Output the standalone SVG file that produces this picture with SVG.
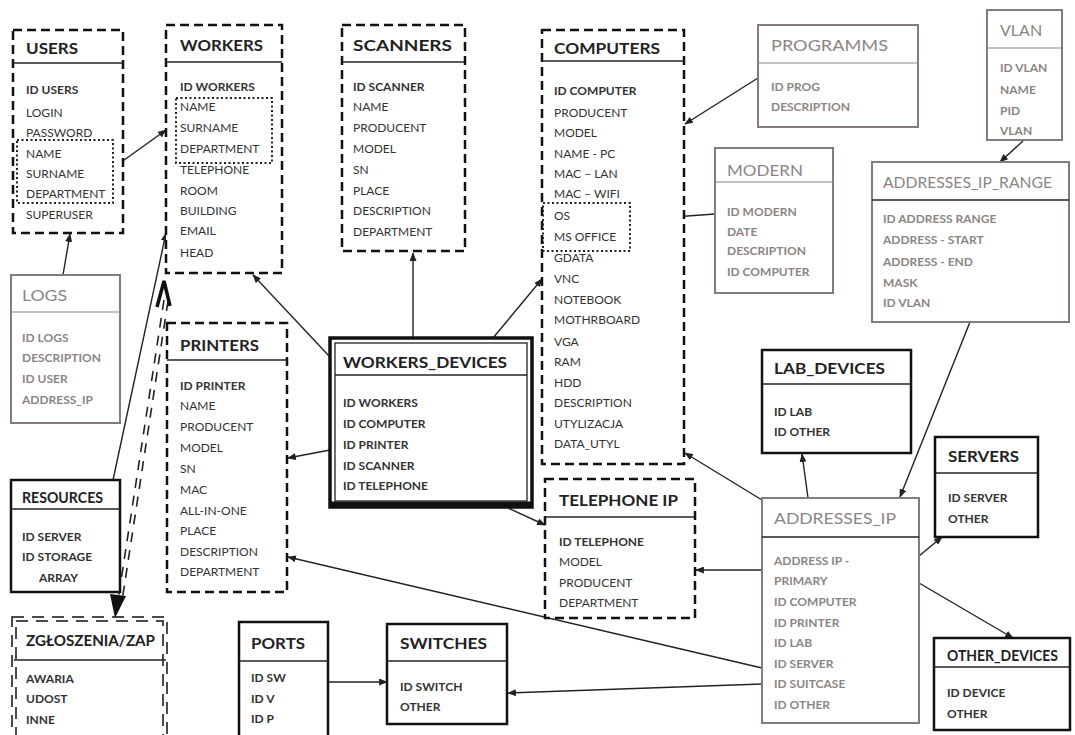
<svg xmlns="http://www.w3.org/2000/svg" width="1075" height="735" viewBox="0 0 1075 735">
<style>
text{font-family:Lato,"Open Sans","Liberation Sans",sans-serif}
.ti{font-size:16px;font-weight:700;fill:#222}
.gt{font-size:16px;font-weight:400;fill:#8c8583}
.r{font-size:12px;fill:#333}
.b{font-weight:700}
.g{fill:#8c8583;font-weight:700}
.dash{fill:#fff;stroke:#111;stroke-width:2.5;stroke-dasharray:9 5}
.sol{fill:#fff;stroke:#111;stroke-width:2.5}
.gb{fill:#fff;stroke:#857b78;stroke-width:2}
.hl{stroke:#222;stroke-width:1.5}
.ghl{stroke:#8c8583;stroke-width:1.2}
.dot{fill:none;stroke:#222;stroke-width:2;stroke-dasharray:2 2.5}
.c{fill:none;stroke:#222;stroke-width:1.4;marker-end:url(#a)}
.dd{fill:none;stroke:#222;stroke-width:1.6;stroke-dasharray:10 8}
</style>
<defs>
<marker id="a" viewBox="0 0 10 8" refX="9" refY="4" markerWidth="9" markerHeight="7" markerUnits="userSpaceOnUse" orient="auto">
<path d="M0,0 L10,4 L0,8 z" fill="#222"/>
</marker>
</defs>
<rect width="1075" height="735" fill="#fff"/>

<g id="connectors">
<line class="c" x1="113" y1="168" x2="166" y2="130"/>
<line class="c" x1="63" y1="275" x2="70" y2="234"/>
<line class="c" x1="113" y1="480" x2="166" y2="233"/>
<line class="c" x1="758" y1="78" x2="685" y2="124"/>
<line class="c" x1="715" y1="214" x2="632" y2="220"/>
<line class="c" x1="1023" y1="141" x2="1000" y2="162"/>
<line class="c" x1="330" y1="357" x2="253" y2="275"/>
<line class="c" x1="413" y1="338" x2="413" y2="253"/>
<line class="c" x1="493" y1="338" x2="542" y2="279"/>
<line class="c" x1="330" y1="450" x2="288" y2="458"/>
<line class="c" x1="508" y1="508" x2="545" y2="525"/>
<line class="c" x1="762" y1="500" x2="685" y2="453"/>
<line class="c" x1="808" y1="498" x2="802" y2="454"/>
<line class="c" x1="970" y1="322" x2="900" y2="497"/>
<line class="c" x1="919" y1="556" x2="942" y2="537"/>
<line class="c" x1="919" y1="583" x2="1013" y2="638"/>
<line class="c" x1="762" y1="570" x2="696" y2="570"/>
<line class="c" x1="762" y1="668" x2="288" y2="557"/>
<line class="c" x1="762" y1="684" x2="508" y2="693"/>
<line class="c" x1="328" y1="682" x2="387" y2="682"/>
<line class="dd" x1="164" y1="300" x2="118" y2="600"/>
<line class="dd" x1="168" y1="301" x2="122" y2="601"/>
<path d="M157,307 L164,281 L170,306" fill="none" stroke="#111" stroke-width="3.5"/>
<path d="M110,594 L126,596 L115,618 z" fill="#111"/>
</g>

<g id="users">
<rect class="dash" x="13" y="30" width="110" height="203"/>
<line class="hl" x1="13" y1="63" x2="123" y2="63"/>
<text class="ti" x="26" y="54" textLength="52" lengthAdjust="spacingAndGlyphs">USERS</text>
<text class="r b" x="26" y="94">ID USERS</text>
<text class="r" x="26" y="117">LOGIN</text>
<text class="r" x="26" y="137">PASSWORD</text>
<text class="r" x="26" y="158">NAME</text>
<text class="r" x="26" y="178">SURNAME</text>
<text class="r" x="26" y="198">DEPARTMENT</text>
<text class="r" x="26" y="219">SUPERUSER</text>
<rect class="dot" x="17" y="140" width="96" height="63"/>
</g>

<g id="workers">
<rect class="dash" x="166" y="25" width="116" height="248"/>
<line class="hl" x1="166" y1="62" x2="282" y2="62"/>
<text class="ti" x="180" y="51" textLength="83" lengthAdjust="spacingAndGlyphs">WORKERS</text>
<text class="r b" x="180" y="91">ID WORKERS</text>
<text class="r" x="180" y="111">NAME</text>
<text class="r" x="180" y="132">SURNAME</text>
<text class="r" x="180" y="153">DEPARTMENT</text>
<text class="r" x="180" y="174">TELEPHONE</text>
<text class="r" x="180" y="195">ROOM</text>
<text class="r" x="180" y="215">BUILDING</text>
<text class="r" x="180" y="235">EMAIL</text>
<text class="r" x="180" y="257">HEAD</text>
<rect class="dot" x="176" y="98" width="96" height="65"/>
</g>

<g id="scanners">
<rect class="dash" x="342" y="25" width="123" height="226"/>
<line class="hl" x1="342" y1="62" x2="465" y2="62"/>
<text class="ti" x="353" y="51" textLength="99" lengthAdjust="spacingAndGlyphs">SCANNERS</text>
<text class="r b" x="353" y="91">ID SCANNER</text>
<text class="r" x="353" y="111">NAME</text>
<text class="r" x="353" y="132">PRODUCENT</text>
<text class="r" x="353" y="153">MODEL</text>
<text class="r" x="353" y="174">SN</text>
<text class="r" x="353" y="195">PLACE</text>
<text class="r" x="353" y="215">DESCRIPTION</text>
<text class="r" x="353" y="236">DEPARTMENT</text>
</g>

<g id="computers">
<rect class="dash" x="542" y="30" width="142" height="434"/>
<line class="hl" x1="542" y1="61" x2="684" y2="61"/>
<text class="ti" x="554" y="54" textLength="106" lengthAdjust="spacingAndGlyphs">COMPUTERS</text>
<text class="r b" x="554" y="95">ID COMPUTER</text>
<text class="r" x="554" y="117">PRODUCENT</text>
<text class="r" x="554" y="137">MODEL</text>
<text class="r" x="554" y="158">NAME - PC</text>
<text class="r" x="554" y="178">MAC – LAN</text>
<text class="r" x="554" y="198">MAC – WIFI</text>
<text class="r" x="554" y="220">OS</text>
<text class="r" x="554" y="241">MS OFFICE</text>
<text class="r" x="554" y="262">GDATA</text>
<text class="r" x="554" y="283">VNC</text>
<text class="r" x="554" y="304">NOTEBOOK</text>
<text class="r" x="554" y="324">MOTHRBOARD</text>
<text class="r" x="554" y="346">VGA</text>
<text class="r" x="554" y="366">RAM</text>
<text class="r" x="554" y="387">HDD</text>
<text class="r" x="554" y="407">DESCRIPTION</text>
<text class="r" x="554" y="428">UTYLIZACJA</text>
<text class="r" x="554" y="448">DATA_UTYL</text>
<rect class="dot" x="543" y="203" width="87" height="48"/>
</g>

<g id="programms">
<rect class="gb" x="758" y="25" width="160" height="102"/>
<line class="ghl" x1="758" y1="63" x2="918" y2="63"/>
<text class="gt" x="771" y="51" textLength="117" lengthAdjust="spacingAndGlyphs">PROGRAMMS</text>
<text class="r g" x="771" y="91">ID PROG</text>
<text class="r g" x="771" y="111">DESCRIPTION</text>
</g>

<g id="modern">
<rect class="gb" x="715" y="148" width="118" height="145"/>
<line class="ghl" x1="715" y1="182" x2="833" y2="182"/>
<text class="gt" x="727" y="176" textLength="76" lengthAdjust="spacingAndGlyphs">MODERN</text>
<text class="r g" x="727" y="216">ID MODERN</text>
<text class="r g" x="727" y="236">DATE</text>
<text class="r g" x="727" y="255">DESCRIPTION</text>
<text class="r g" x="727" y="276">ID COMPUTER</text>
</g>

<g id="vlan">
<rect class="gb" x="987" y="10" width="75" height="130"/>
<line class="ghl" x1="987" y1="48" x2="1062" y2="48"/>
<text class="gt" x="1000" y="36">VLAN</text>
<text class="r g" x="1000" y="72">ID VLAN</text>
<text class="r g" x="1000" y="94">NAME</text>
<text class="r g" x="1000" y="115">PID</text>
<text class="r g" x="1000" y="135">VLAN</text>
</g>

<g id="addresses_ip_range">
<rect class="gb" x="872" y="162" width="197" height="160"/>
<line class="hl" x1="872" y1="200" x2="1069" y2="200"/>
<text class="gt" x="883" y="188" textLength="169" lengthAdjust="spacingAndGlyphs">ADDRESSES_IP_RANGE</text>
<text class="r g" x="883" y="223">ID ADDRESS RANGE</text>
<text class="r g" x="883" y="244">ADDRESS - START</text>
<text class="r g" x="883" y="266">ADDRESS - END</text>
<text class="r g" x="883" y="287">MASK</text>
<text class="r g" x="883" y="307">ID VLAN</text>
</g>

<g id="logs">
<rect class="gb" x="11" y="275" width="109" height="148"/>
<line class="ghl" x1="11" y1="312" x2="120" y2="312"/>
<text class="gt" x="22" y="301" font-weight="700" textLength="45" lengthAdjust="spacingAndGlyphs">LOGS</text>
<text class="r g" x="22" y="342">ID LOGS</text>
<text class="r g" x="22" y="362">DESCRIPTION</text>
<text class="r g" x="22" y="383">ID USER</text>
<text class="r g" x="22" y="404">ADDRESS_IP</text>
</g>

<g id="printers">
<rect class="dash" x="167" y="323" width="120" height="269"/>
<line class="hl" x1="167" y1="360" x2="287" y2="360"/>
<text class="ti" x="180" y="351" textLength="79" lengthAdjust="spacingAndGlyphs">PRINTERS</text>
<text class="r b" x="180" y="390">ID PRINTER</text>
<text class="r" x="180" y="410">NAME</text>
<text class="r" x="180" y="431">PRODUCENT</text>
<text class="r" x="180" y="452">MODEL</text>
<text class="r" x="180" y="473">SN</text>
<text class="r" x="180" y="494">MAC</text>
<text class="r" x="180" y="515">ALL-IN-ONE</text>
<text class="r" x="180" y="535">PLACE</text>
<text class="r" x="180" y="556">DESCRIPTION</text>
<text class="r" x="180" y="576">DEPARTMENT</text>
</g>

<g id="resources">
<rect class="sol" x="11" y="480" width="109" height="112"/>
<line class="hl" x1="11" y1="509" x2="120" y2="509"/>
<text class="ti" x="22" y="503" font-size="15" textLength="81" lengthAdjust="spacingAndGlyphs">RESOURCES</text>
<text class="r b" x="22" y="541">ID SERVER</text>
<text class="r b" x="22" y="561">ID STORAGE</text>
<text class="r b" x="39" y="582">ARRAY</text>
</g>

<g id="zgloszenia">
<rect x="12" y="617" width="155" height="130" fill="#fff" stroke="#111" stroke-width="1.5" stroke-dasharray="12 8"/>
<rect x="16" y="621" width="147" height="122" fill="none" stroke="#111" stroke-width="1.5" stroke-dasharray="12 8"/>
<line class="hl" x1="14" y1="660" x2="166" y2="660"/>
<text class="ti" x="26" y="646" textLength="129" lengthAdjust="spacingAndGlyphs">ZGŁOSZENIA/ZAP</text>
<text class="r b" x="26" y="683">AWARIA</text>
<text class="r b" x="26" y="703">UDOST</text>
<text class="r b" x="26" y="724">INNE</text>
</g>

<g id="workers_devices">
<rect x="330" y="338" width="202" height="169" fill="#fff" stroke="#111" stroke-width="3.5"/>
<rect x="335" y="343" width="192" height="158" fill="none" stroke="#111" stroke-width="1.2"/>
<line x1="330" y1="504" x2="532" y2="504" stroke="#111" stroke-width="5"/>
<line class="hl" x1="335" y1="375" x2="527" y2="375"/>
<text class="ti" x="343" y="368" font-size="17" textLength="164" lengthAdjust="spacingAndGlyphs">WORKERS_DEVICES</text>
<text class="r b" x="343" y="407">ID WORKERS</text>
<text class="r b" x="343" y="428">ID COMPUTER</text>
<text class="r b" x="343" y="449">ID PRINTER</text>
<text class="r b" x="343" y="470">ID SCANNER</text>
<text class="r b" x="343" y="490">ID TELEPHONE</text>
</g>

<g id="telephone_ip">
<rect class="dash" x="545" y="479" width="150" height="139"/>
<line class="hl" x1="545" y1="517" x2="695" y2="517"/>
<text class="ti" x="559" y="506" textLength="119" lengthAdjust="spacingAndGlyphs">TELEPHONE IP</text>
<text class="r b" x="559" y="546">ID TELEPHONE</text>
<text class="r" x="559" y="566">MODEL</text>
<text class="r" x="559" y="587">PRODUCENT</text>
<text class="r" x="559" y="607">DEPARTMENT</text>
</g>

<g id="addresses_ip">
<rect class="gb" x="762" y="498" width="157" height="225"/>
<line class="hl" x1="762" y1="537" x2="919" y2="537"/>
<text class="gt" x="774" y="524" textLength="122" lengthAdjust="spacingAndGlyphs">ADDRESSES_IP</text>
<text class="r g" x="774" y="565">ADDRESS IP -</text>
<text class="r g" x="774" y="585">PRIMARY</text>
<text class="r g" x="774" y="606">ID COMPUTER</text>
<text class="r g" x="774" y="627">ID PRINTER</text>
<text class="r g" x="774" y="647">ID LAB</text>
<text class="r g" x="774" y="668">ID SERVER</text>
<text class="r g" x="774" y="688">ID SUITCASE</text>
<text class="r g" x="774" y="709">ID OTHER</text>
</g>

<g id="lab_devices">
<rect class="sol" x="762" y="350" width="149" height="103"/>
<line class="hl" x1="762" y1="384" x2="911" y2="384"/>
<text class="ti" x="774" y="374" textLength="111" lengthAdjust="spacingAndGlyphs">LAB_DEVICES</text>
<text class="r b" x="774" y="416">ID LAB</text>
<text class="r b" x="774" y="436">ID OTHER</text>
</g>

<g id="servers">
<rect class="sol" x="935" y="437" width="103" height="100"/>
<line class="hl" x1="935" y1="473" x2="1038" y2="473"/>
<text class="ti" x="948" y="462" textLength="71" lengthAdjust="spacingAndGlyphs">SERVERS</text>
<text class="r b" x="948" y="502">ID SERVER</text>
<text class="r b" x="948" y="523">OTHER</text>
</g>

<g id="other_devices">
<rect class="sol" x="934" y="638" width="136" height="92"/>
<line class="hl" x1="934" y1="667" x2="1070" y2="667"/>
<text class="ti" x="947" y="661" textLength="111" lengthAdjust="spacingAndGlyphs">OTHER_DEVICES</text>
<text class="r b" x="947" y="697">ID DEVICE</text>
<text class="r b" x="947" y="718">OTHER</text>
</g>

<g id="ports">
<rect class="sol" x="239" y="622" width="89" height="125"/>
<line class="hl" x1="239" y1="661" x2="328" y2="661"/>
<text class="ti" x="251" y="649" textLength="54" lengthAdjust="spacingAndGlyphs">PORTS</text>
<text class="r b" x="251" y="682">ID SW</text>
<text class="r b" x="251" y="703">ID V</text>
<text class="r b" x="251" y="723">ID P</text>
</g>

<g id="switches">
<rect class="sol" x="387" y="624" width="120" height="100"/>
<line class="hl" x1="387" y1="661" x2="507" y2="661"/>
<text class="ti" x="400" y="649" textLength="87" lengthAdjust="spacingAndGlyphs">SWITCHES</text>
<text class="r b" x="400" y="691">ID SWITCH</text>
<text class="r b" x="400" y="711">OTHER</text>
</g>
</svg>
